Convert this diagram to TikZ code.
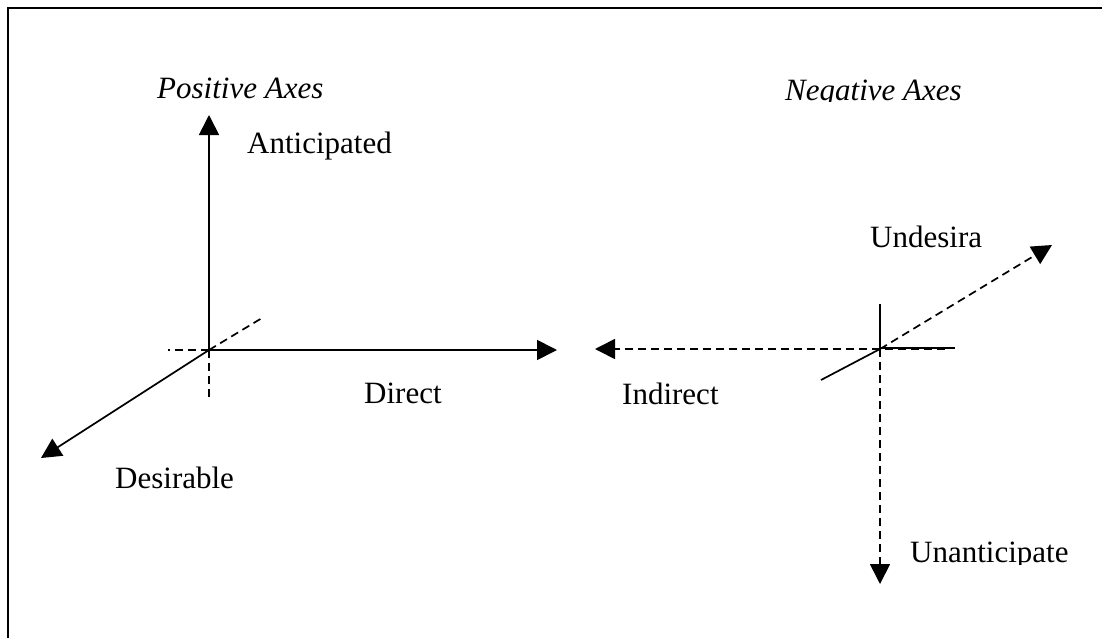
\documentclass[tikz,border=0pt]{standalone}
\usepackage{fontspec}
\setmainfont{Liberation Serif}
\usetikzlibrary{arrows.meta}
\begin{document}
\begin{tikzpicture}[x=1pt,y=-1pt,
  axis/.style={line width=1.7pt},
  dashaxis/.style={line width=1.7pt,dash pattern=on 8pt off 5pt},
  tip/.style={-{Triangle[length=20pt,width=20pt]}},
  lbl/.style={anchor=base west,inner sep=0pt,font=\fontsize{31}{37}\selectfont},
  ilbl/.style={lbl,font=\fontsize{31}{37}\selectfont\itshape}]
\useasboundingbox (0,0) rectangle (1102,637);
% outer frame, running off the right and bottom edges
\draw[line width=2.4pt] (8,650) -- (8,8) -- (1110,8);

% positive axes
\coordinate (O1) at (209,350);
\coordinate (antic) at (209,115);
\coordinate (direct) at (557,350);
\coordinate (desir) at (41,458);
\coordinate (d1) at (209,400);
\coordinate (d2) at (168,350);
\coordinate (d3) at (262,318);
\draw[axis,tip] (O1) -- (antic);
\draw[axis,tip] (O1) -- (direct);
\draw[axis,tip] (O1) -- (desir);
\draw[dashaxis] (O1) -- (d1);
\draw[dashaxis] (O1) -- (d2);
\draw[dashaxis] (O1) -- (d3);

% negative axes
\coordinate (O2) at (880,349);
\coordinate (indirect) at (595,349);
\coordinate (undes) at (1052,245);
\coordinate (unant) at (880,584);
\coordinate (s1) at (880,304);
\coordinate (s2) at (955,348);
\coordinate (s3) at (821,380);
\coordinate (e1) at (945,349);
\coordinate (O2a) at (880,348);
\draw[dashaxis,tip] (e1) -- (indirect);
\draw[dashaxis,tip] (O2) -- (undes);
\draw[dashaxis,tip] (O2) -- (unant);
\draw[axis] (O2) -- (s1);
\draw[axis] (O2a) -- (s2);
\draw[axis] (O2) -- (s3);

% labels
\node[ilbl] (pos) at (157,98) {Positive Axes};
\node[lbl] (lant) at (247,153) {Anticipated};
\node[lbl] (ldir) at (364,403) {Direct};
\node[lbl] (ldes) at (115,488) {Desirable};
\node[lbl] (lind) at (622,404) {Indirect};
% text boxes too small for their text: cut off at the box edge
\begin{scope}
  \clip (700,60) rectangle (1000,101);
  \node[ilbl] (neg) at (785,100) {Negative Axes};
\end{scope}
\begin{scope}
  \clip (860,200) rectangle (981,260);
  \node[lbl] (lund) at (870,247) {Undesirable};
\end{scope}
\begin{scope}
  \clip (900,520) rectangle (1067.5,564);
  \node[lbl] (luna) at (910,562) {Unanticipated};
\end{scope}
\end{tikzpicture}
\end{document}
